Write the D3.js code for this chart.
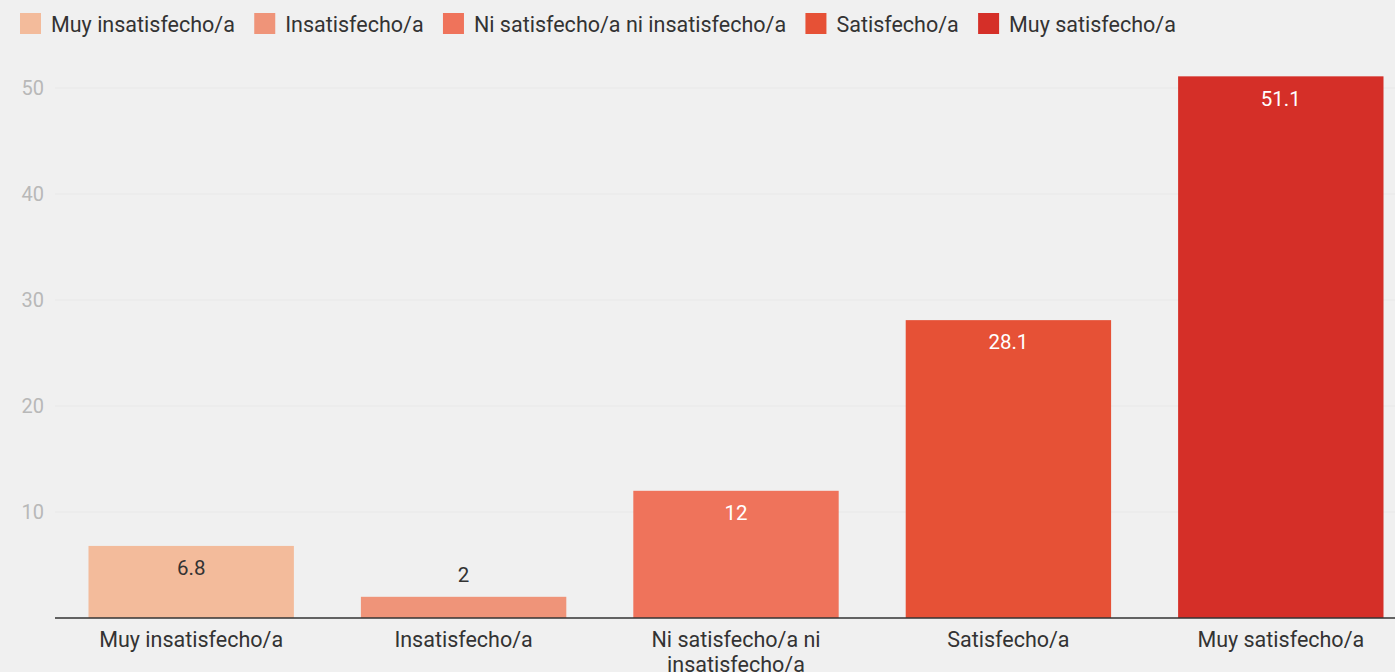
<!DOCTYPE html>
<html>
<head>
<meta charset="utf-8">
<script src="https://cdn.jsdelivr.net/npm/d3@7"></script>
<style>
  body { margin: 0; background: #f0f0f0; }
  svg { display: block; font-family: Roboto, "Noto Sans", sans-serif; }
</style>
</head>
<body>
<svg id="chart" width="1395" height="672"></svg>
<script>
const categories = ["Muy insatisfecho/a", "Insatisfecho/a", "Ni satisfecho/a ni insatisfecho/a", "Satisfecho/a", "Muy satisfecho/a"];
const axisLabels = [["Muy insatisfecho/a"], ["Insatisfecho/a"], ["Ni satisfecho/a ni", "insatisfecho/a"], ["Satisfecho/a"], ["Muy satisfecho/a"]];
const values = [6.8, 2, 12, 28.1, 51.1];
const colors = ["#f3bb9b", "#ef9479", "#ef735b", "#e65136", "#d52f28"];
const yTicks = [10, 20, 30, 40, 50];

const W = 1395, H = 672;
const margin = {left: 55, right: -22, top: 0, bottom: 54};
const svg = d3.select("#chart");

const x = d3.scaleBand()
  .domain(categories)
  .range([margin.left, W - margin.right])
  .paddingInner(0.246)
  .paddingOuter(0.123);

const y = d3.scaleLinear()
  .domain([0, 10])
  .range([H - margin.bottom, H - margin.bottom - 106]);

// grid
svg.append("g")
  .selectAll("line")
  .data(yTicks)
  .join("line")
  .attr("x1", margin.left)
  .attr("x2", W)
  .attr("y1", d => y(d))
  .attr("y2", d => y(d))
  .attr("stroke", "#e8e8e8")
  .attr("stroke-width", 1);

svg.append("g")
  .selectAll("text")
  .data(yTicks)
  .join("text")
  .attr("x", 44)
  .attr("y", d => y(d))
  .attr("dy", "0.35em")
  .attr("text-anchor", "end")
  .attr("fill", "#b8b8b8")
  .attr("font-size", 20)
  .text(d => d);

// bars
svg.append("g")
  .selectAll("rect")
  .data(values)
  .join("rect")
  .attr("x", (d, i) => x(categories[i]))
  .attr("y", d => y(d))
  .attr("width", x.bandwidth())
  .attr("height", d => y(0) - y(d))
  .attr("fill", (d, i) => colors[i]);

// value labels
svg.append("g")
  .selectAll("text")
  .data(values)
  .join("text")
  .attr("x", (d, i) => x(categories[i]) + x.bandwidth() / 2)
  .attr("y", d => (y(0) - y(d) > 30 ? y(d) + 22 : y(d) - 22))
  .attr("dy", "0.35em")
  .attr("text-anchor", "middle")
  .attr("font-size", 20.5)
  .attr("fill", (d, i) => (i === 0 || y(0) - y(d) <= 30) ? "#333" : "#fff")
  .text(d => d);

// baseline
svg.append("line")
  .attr("x1", margin.left)
  .attr("x2", W)
  .attr("y1", y(0))
  .attr("y2", y(0))
  .attr("stroke", "#333")
  .attr("stroke-width", 1.5);

// category labels
const cl = svg.append("g")
  .selectAll("text")
  .data(axisLabels)
  .join("text")
  .attr("x", (d, i) => x(categories[i]) + x.bandwidth() / 2)
  .attr("y", y(0) + 29)
  .attr("text-anchor", "middle")
  .attr("font-size", 21.5)
  .attr("fill", "#333");
cl.selectAll("tspan")
  .data(d => d)
  .join("tspan")
  .attr("x", function() { return this.parentNode.getAttribute("x"); })
  .attr("dy", (d, i) => i ? 25 : 0)
  .text(d => d);

// legend
const legend = svg.append("g");
let lx = 20;
categories.forEach((c, i) => {
  legend.append("rect")
    .attr("x", lx).attr("y", 13)
    .attr("width", 21).attr("height", 21)
    .attr("fill", colors[i]);
  const t = legend.append("text")
    .attr("x", lx + 31).attr("y", 24)
    .attr("dy", "0.35em")
    .attr("font-size", 21.5)
    .attr("fill", "#333")
    .text(c);
  lx += 31 + t.node().getComputedTextLength() + 19.3;
});
</script>
</body>
</html>
